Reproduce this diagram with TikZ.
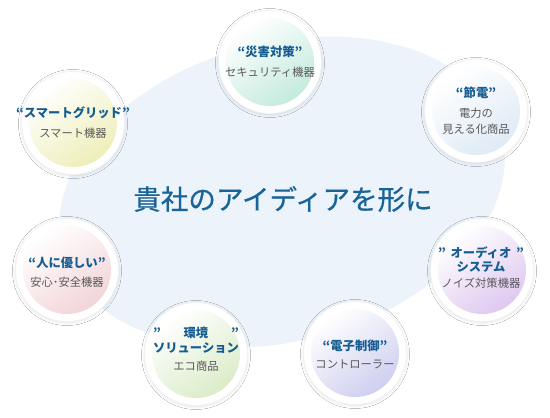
\documentclass[tikz,border=0pt]{standalone}
\usepackage{fontspec}
\setmainfont{Noto Sans CJK JP}
\usetikzlibrary{shadows.blur}
\definecolor{bgblue}{RGB}{236,243,250}
\definecolor{maintxt}{RGB}{24,100,152}
\definecolor{titletxt}{RGB}{20,92,145}
\definecolor{subtxt}{RGB}{88,88,88}
\definecolor{cmint}{RGB}{196,234,222}
\definecolor{cpale}{RGB}{222,234,245}
\definecolor{cyellow}{RGB}{238,238,185}
\definecolor{cpink}{RGB}{242,212,216}
\definecolor{clav}{RGB}{222,200,240}
\definecolor{cgreen}{RGB}{218,236,200}
\definecolor{cperi}{RGB}{206,206,240}
\tikzset{
  ring/.style={circle, fill=white, draw=black!5, line width=0.6pt, minimum size=103pt, inner sep=0pt,
    blur shadow={shadow xshift=0pt, shadow yshift=-1pt, shadow blur radius=3pt, shadow opacity=12}},
  disc/.style={circle, minimum size=88pt, inner sep=0pt, top color=white, bottom color=#1, shading angle=35},
  ttl/.style={text=titletxt, font=\fontsize{12.3}{15}\selectfont\bfseries, align=center, inner sep=0pt},
  sub/.style={text=subtxt, font=\fontsize{11.3}{16.5}\selectfont, align=center, inner sep=0pt},
}
\begin{document}
\begin{tikzpicture}[x=1pt, y=-1pt]
\useasboundingbox (0,0) rectangle (550,418);
\fill[white] (0,0) rectangle (550,418);
\fill[bgblue, rotate around={15:(282,192)}] (282,192) ellipse [x radius=227pt, y radius=149pt];
\node[text=maintxt, font=\fontsize{27.5}{30}\selectfont\addfontfeatures{FakeBold=0.6}, inner sep=0pt] (main) at (283,199) {貴社のアイディアを形に};
% circles
\node[ring] (c1) at (270,62) {};
\node[disc=cmint] (i1) at (c1.center) {};
\node[ring] (c2) at (476,111) {};
\node[disc=cpale] (i2) at (c2.center) {};
\node[ring] (c3) at (73,123) {};
\node[disc=cyellow] (i3) at (c3.center) {};
\node[ring] (c4) at (67,270) {};
\node[disc=cpink] (i4) at (c4.center) {};
\node[ring] (c5) at (482,270) {};
\node[disc=clav] (i5) at (c5.center) {};
\node[ring] (c6) at (196,354) {};
\node[disc=cgreen] (i6) at (c6.center) {};
\node[ring] (c7) at (355,353) {};
\node[disc=cperi] (i7) at (c7.center) {};
% texts
\node[ttl] (t1) at (270,52) {“災害対策”};
\node[sub] (s1) at (270,72) {セキュリティ機器};
\node[ttl] (t2) at (476,93) {“節電”};
\node[sub] (s2) at (476,121) {電力の\\見える化商品};
\node[ttl] (t3) at (73,113) {“スマートグリッド”};
\node[sub] (s3) at (73,133) {スマート機器};
\node[ttl] (t4) at (67,263) {“人に優しい”};
\node[sub] (s4) at (67,282) {安心･安全機器};
\node[ttl] (t5) at (481,259.5) {\makebox[86pt]{”\hfill オーディオ\hfill ”}\\[-0.5pt]システム};
\node[sub] (s5) at (481,283) {ノイズ対策機器};
\node[ttl] (t6) at (196,340.5) {\makebox[86pt]{”\hfill 環境\hfill ”}\\[-0.5pt]ソリューション};
\node[sub] (s6) at (196,366) {エコ商品};
\node[ttl] (t7) at (355,346) {“電子制御”};
\node[sub] (s7) at (355,364) {コントローラー};
\end{tikzpicture}
\end{document}
